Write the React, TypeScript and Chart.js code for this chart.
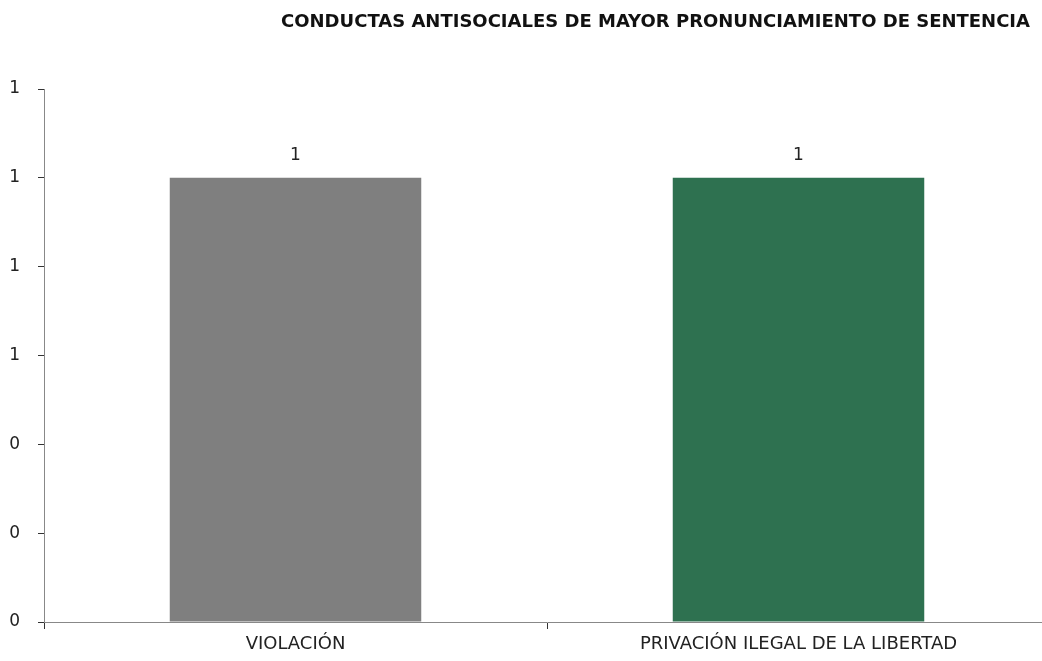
import React, { useEffect, useRef } from "react";
import { Chart, registerables } from "chart.js";

Chart.register(...registerables);

const TITLE = "CONDUCTAS ANTISOCIALES DE MAYOR PRONUNCIAMIENTO DE SENTENCIA";
const categories = ["VIOLACIÓN", "PRIVACIÓN ILEGAL DE LA LIBERTAD"];
const values = [1, 1];
const barColors = ["#7f7f7f", "#2e7150"];
const yMin = 0;
const yMax = 1.2;
const yStep = 0.2;

const FONT = "'DejaVu Sans', 'Liberation Sans', sans-serif";

const labelsPlugin = {
  id: "barLabels",
  afterDatasetsDraw(chart: any) {
    const ctx = chart.ctx;
    const meta = chart.getDatasetMeta(0);
    ctx.save();
    ctx.font = `17px ${FONT}`;
    ctx.fillStyle = "#222";
    ctx.textAlign = "center";
    ctx.textBaseline = "middle";
    meta.data.forEach((el: any, i: number) => {
      ctx.fillText(String(Math.round(values[i])), el.x, el.y - 22);
    });
    ctx.restore();
  },
};

const titlePlugin = {
  id: "customTitle",
  afterDraw(chart: any) {
    const ctx = chart.ctx;
    ctx.save();
    ctx.font = `bold 18px ${FONT}`;
    ctx.fillStyle = "#111";
    ctx.textAlign = "right";
    ctx.textBaseline = "middle";
    ctx.fillText(TITLE, 1030, 22);
    ctx.restore();
  },
};

export default function App() {
  const ref = useRef<HTMLCanvasElement | null>(null);
  useEffect(() => {
    if (!ref.current) return;
    const chart = new Chart(ref.current, {
      type: "bar",
      data: {
        labels: categories,
        datasets: [
          {
            data: values,
            backgroundColor: barColors,
            barPercentage: 1,
            categoryPercentage: 0.5,
          },
        ],
      },
      options: {
        animation: false,
        responsive: false,
        maintainAspectRatio: false,
        layout: { padding: { top: 89, left: 0, right: 0, bottom: 0 } },
        plugins: {
          legend: { display: false },
          title: { display: false },
          tooltip: { enabled: false },
        },
        scales: {
          x: {
            afterFit: (s: any) => {
              s.height = 39;
            },
            grid: {
              offset: true,
              drawOnChartArea: false,
              drawTicks: true,
              tickLength: 7,
              color: "#333",
            },
            border: { display: true, color: "#888", width: 1 },
            ticks: {
              color: "#222",
              padding: 5,
              font: { size: 18, family: FONT },
              maxRotation: 0,
            },
          },
          y: {
            min: yMin,
            max: yMax,
            afterFit: (s: any) => {
              s.width = 44;
            },
            grid: {
              drawOnChartArea: false,
              drawTicks: true,
              tickLength: 6,
              color: "#333",
            },
            border: { display: true, color: "#888", width: 1 },
            ticks: {
              stepSize: yStep,
              color: "#222",
              padding: 18,
              font: { size: 17, family: FONT },
              callback: (v: any) => String(Math.round(Number(v))),
            },
          },
        },
      },
      plugins: [labelsPlugin, titlePlugin],
    });
    return () => chart.destroy();
  }, []);
  return (
    <div style={{ position: "fixed", left: 0, top: 0, width: 1042, height: 661, overflow: "hidden", background: "#fff" }}>
      <canvas ref={ref} width={1050} height={661} style={{ width: 1050, height: 661, display: "block" }} />
    </div>
  );
}
